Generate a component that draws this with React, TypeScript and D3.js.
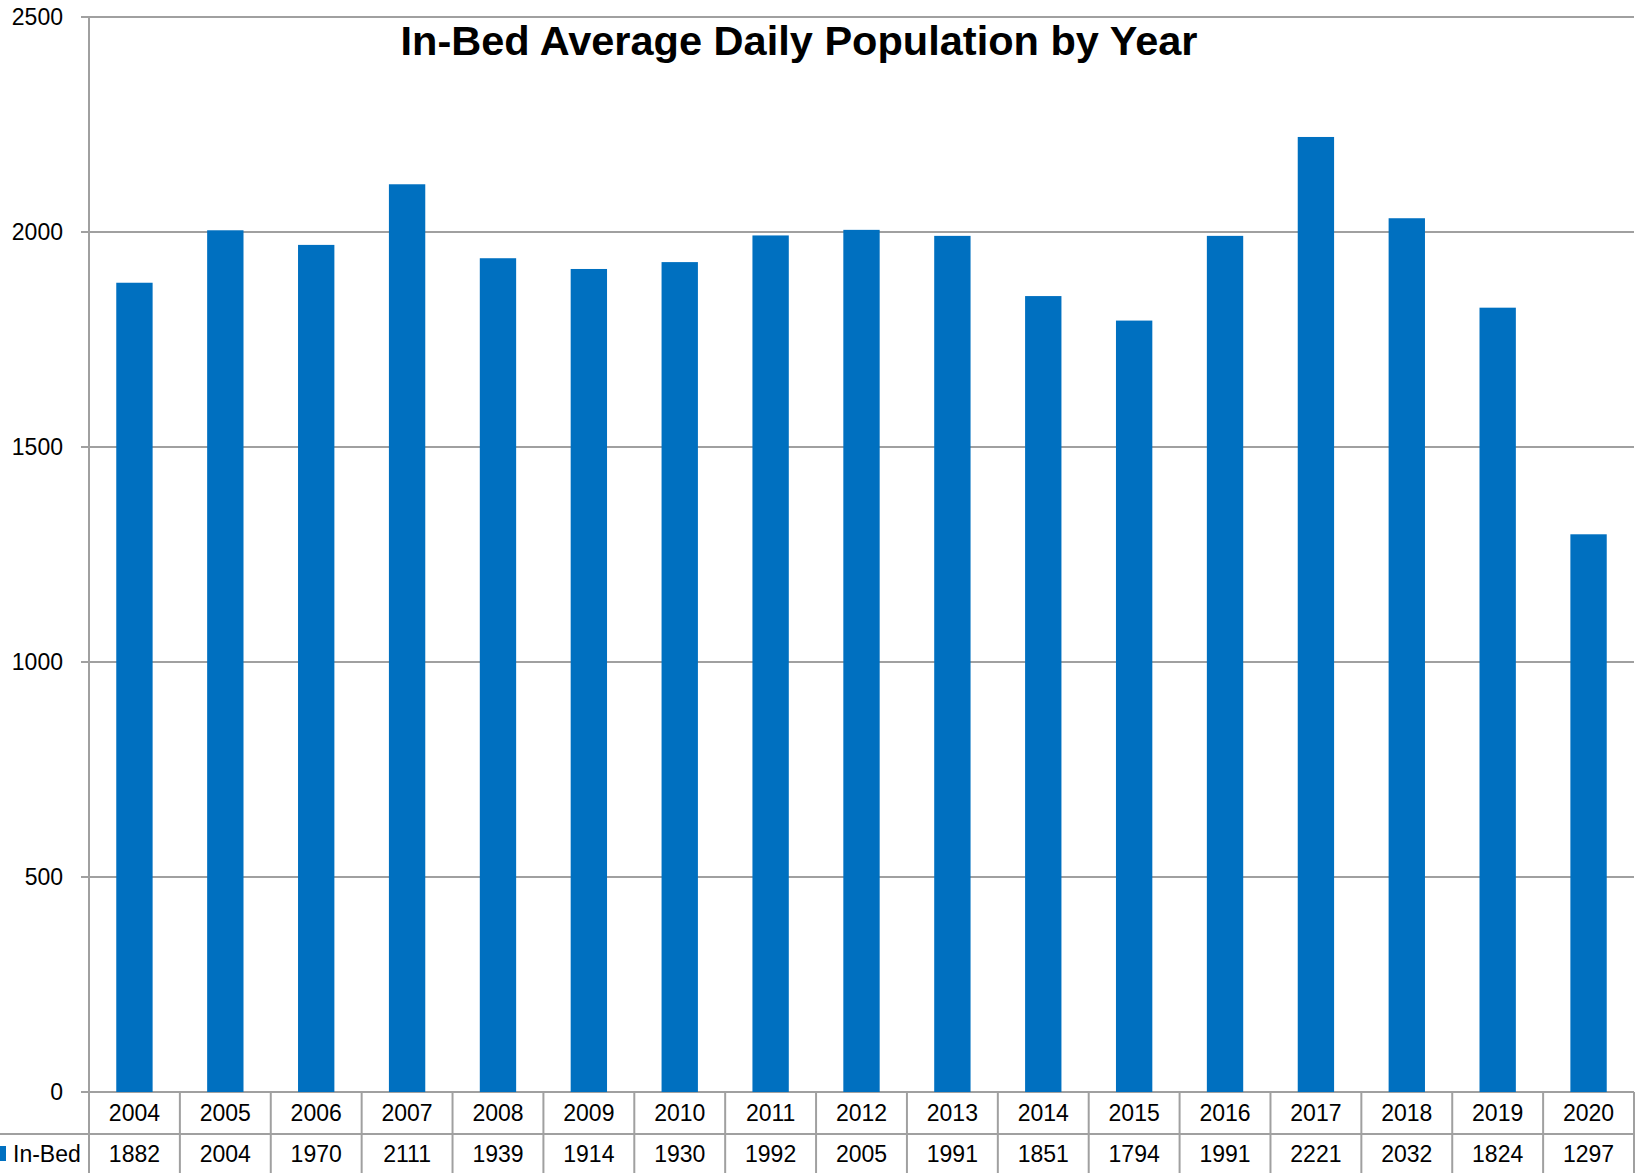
import React from "react";
import * as d3 from "d3";

const years = [
  "2004", "2005", "2006", "2007", "2008", "2009", "2010", "2011", "2012",
  "2013", "2014", "2015", "2016", "2017", "2018", "2019", "2020",
];
const inBed = [
  1882, 2004, 1970, 2111, 1939, 1914, 1930, 1992, 2005, 1991, 1851, 1794,
  1991, 2221, 2032, 1824, 1297,
];
const yTicks = [0, 500, 1000, 1500, 2000, 2500];

const seriesName = "In-Bed";
const title = "In-Bed Average Daily Population by Year";

const W = 1643;
const H = 1173;
const left = 89;
const right = 1634;
const top = 17;
const bottom = 1092;
const rowSplit = 1134;

const blue = "#0070C0";
const grid = "#a0a0a0";
const font = "'Liberation Sans', Arial, sans-serif";

const App = () => {
  const x = d3.scaleBand<string>().domain(years).range([left, right]).padding(0);
  const y = d3.scaleLinear().domain([0, 2500]).range([bottom, top]);
  const bw = x.bandwidth() * 0.4;

  return (
    <svg
      width={W}
      height={H}
      style={{ position: "absolute", left: 0, top: 0, background: "#fff" }}
    >
      {/* gridlines + y labels */}
      {yTicks.map((t) => (
        <g key={t}>
          <line x1={left - 8} x2={right} y1={y(t)} y2={y(t)} stroke={grid} strokeWidth={2} />
          <text
            x={63}
            y={y(t)}
            dy="0.35em"
            textAnchor="end"
            fontFamily={font}
            fontSize={23}
            fill="#000"
          >
            {t}
          </text>
        </g>
      ))}
      <line x1={left} x2={left} y1={top} y2={H} stroke={grid} strokeWidth={2} />

      {/* bars */}
      {years.map((yr, i) => (
        <rect
          key={yr}
          x={x(yr)! + (x.bandwidth() - bw) / 2}
          y={y(inBed[i])}
          width={bw}
          height={bottom - y(inBed[i])}
          fill={blue}
        />
      ))}

      {/* data table */}
      <line x1={0} x2={right} y1={rowSplit} y2={rowSplit} stroke={grid} strokeWidth={2} />
      {years.map((yr) => (
        <line
          key={"v" + yr}
          x1={x(yr)! + x.bandwidth()}
          x2={x(yr)! + x.bandwidth()}
          y1={bottom}
          y2={H}
          stroke={grid}
          strokeWidth={2}
        />
      ))}
      {years.map((yr, i) => (
        <g key={"t" + yr} fontFamily={font} fontSize={23} fill="#000" textAnchor="middle">
          <text x={x(yr)! + x.bandwidth() / 2} y={(bottom + rowSplit) / 2} dy="0.36em">
            {yr}
          </text>
          <text x={x(yr)! + x.bandwidth() / 2} y={(rowSplit + H) / 2} dy="0.36em">
            {inBed[i]}
          </text>
        </g>
      ))}
      <rect x={0} y={1146} width={6} height={15} fill={blue} />
      <text x={13} y={(rowSplit + H) / 2} dy="0.36em" fontFamily={font} fontSize={23} fill="#000">
        {seriesName}
      </text>

      {/* title */}
      <text
        x={799}
        y={55}
        textAnchor="middle"
        fontFamily={font}
        fontWeight="bold"
        fontSize={40}
        textLength={797}
        lengthAdjust="spacingAndGlyphs"
        fill="#000"
      >
        {title}
      </text>
    </svg>
  );
};

export default App;
